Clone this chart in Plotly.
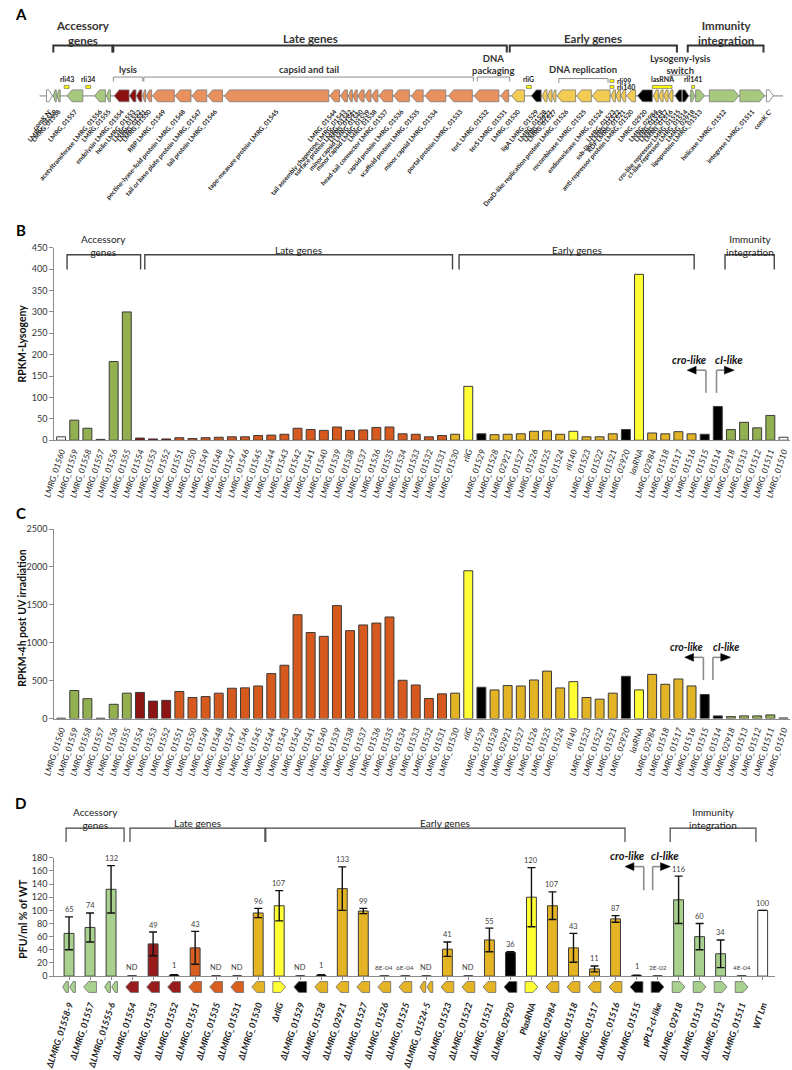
import plotly.graph_objects as go

W, H = 792, 1070
FONT = "Lato"


def PY(p):
    return 1 - p / H


def PX(p):
    return p / W


# ------------------------------------------------------------------ data
bc_cats = ["LMRG_01560", "LMRG_01559", "LMRG_01558", "LMRG_01557", "LMRG_01556", "LMRG_01555",
           "LMRG_01554", "LMRG_01553", "LMRG_01552", "LMRG_01551", "LMRG_01550", "LMRG_01549",
           "LMRG_01548", "LMRG_01547", "LMRG_01546", "LMRG_01545", "LMRG_01544", "LMRG_01543",
           "LMRG_01542", "LMRG_01541", "LMRG_01540", "LMRG_01539", "LMRG_01538", "LMRG_01537",
           "LMRG_01536", "LMRG_01535", "LMRG_01534", "LMRG_01533", "LMRG_01532", "LMRG_01531",
           "LMRG_01530", "rliG", "LMRG_01529", "LMRG_01528", "LMRG_02921", "LMRG_01527",
           "LMRG_01526", "LMRG_01525", "LMRG_01524", "rli140", "LMRG_01523", "LMRG_01522",
           "LMRG_01521", "LMRG_02920", "lasRNA", "LMRG_02984", "LMRG_01518", "LMRG_01517",
           "LMRG_01516", "LMRG_01515", "LMRG_01514", "LMRG_02918", "LMRG_01513", "LMRG_01512",
           "LMRG_01511", "LMRG_01510"]
bc_group = (["none"] + ["acc"] * 5 + ["lys"] * 3 + ["late"] * 21 + ["early", "yel", "blk"]
            + ["early"] * 6 + ["yel"] + ["early"] * 3 + ["blk", "yel"] + ["early"] * 4
            + ["blk", "blk"] + ["acc"] * 4 + ["none"])
rpkm_lysogeny = [8, 47, 28, 2, 184, 300, 5, 3, 3, 6, 4, 6, 7, 8, 8, 11, 12, 14, 28, 25, 23, 31,
                 23, 24, 30, 31, 15, 14, 8, 11, 14, 126, 15, 13, 14, 15, 21, 22, 14, 21, 8, 8,
                 15, 25, 388, 17, 15, 20, 15, 14, 79, 25, 42, 29, 58, 7]
rpkm_uv = [5, 370, 262, 5, 188, 335, 345, 230, 240, 357, 278, 290, 335, 400, 405, 430, 593, 703,
           1370, 1135, 1085, 1490, 1160, 1235, 1260, 1340, 505, 443, 265, 326, 335, 1950, 413,
           378, 435, 430, 509, 626, 404, 487, 278, 256, 335, 557, 378, 583, 452, 522, 430, 317,
           35, 26, 35, 35, 48, 8]

d_cats = ["ΔLMRG_01558-9", "ΔLMRG_01557", "ΔLMRG_01555-6", "ΔLMRG_01554", "ΔLMRG_01553",
          "ΔLMRG_01552", "ΔLMRG_01551", "ΔLMRG_01535", "ΔLMRG_01531", "ΔLMRG_01530", "ΔrliG",
          "ΔLMRG_01529", "ΔLMRG_01528", "ΔLMRG_02921", "ΔLMRG_01527", "ΔLMRG_01526",
          "ΔLMRG_01525", "ΔLMRG_01524-5", "ΔLMRG_01523", "ΔLMRG_01522", "ΔLMRG_01521",
          "ΔLMRG_02920", "PlasRNA", "ΔLMRG_02984", "ΔLMRG_01518", "ΔLMRG_01517",
          "ΔLMRG_01516", "ΔLMRG_01515", "pPL2-cI-like", "ΔLMRG_02918", "ΔLMRG_01513",
          "ΔLMRG_01512", "ΔLMRG_01511", "WT Lm"]
d_group = ["acc", "acc", "acc", "lys", "lys", "lys", "late", "late", "late", "early", "yel",
           "blk", "early", "early", "early", "early", "early", "early", "early", "early", "early",
           "blk", "yel", "early", "early", "early", "early", "blk", "blk", "acc", "acc", "acc",
           "acc", "none"]
d_values = [65, 74, 132, 0, 49, 1, 43, 0, 0, 96, 107, 0, 1, 133, 99, 8e-4, 6e-4, 0, 41, 0, 55,
            36, 120, 107, 43, 11, 87, 1, 2e-2, 116, 60, 34, 4e-4, 100]
d_errors = [25, 22, 36, 0, 18, 1, 25, 0, 0, 7, 23, 0, 1, 33, 4, 0, 0, 0, 11, 0, 18, 1, 45, 21,
            22, 4.5, 5, 0.5, 0, 36, 20, 21, 0, 0]
d_labels = ["65", "74", "132", "ND", "49", "1", "43", "ND", "ND", "96", "107", "ND", "1", "133",
            "99", "8E-04", "6E-04", "ND", "41", "ND", "55", "36", "120", "107", "43", "11", "87",
            "1", "2E-02", "116", "60", "34", "4E-04", "100"]
d_icons = ["LL", "L", "LL", "L", "L", "L", "L", "L", "L", "L", "R", "L", "L", "L", "L", "L", "L",
           "LL", "L", "L", "L", "L", "R", "L", "L", "L", "L", "L", "R", "R", "R", "R", "R", ""]

# genome map (kb)
gene_names = ["comK N'", "LMRG_01559", "LMRG_01558", "LMRG_01557", "acetyltransferase LMRG_01556",
              "LMRG_01555", "endolysin LMRG_01554", "holin LMRG_01553", "LMRG_01552",
              "LMRG_01551", "LMRG_01550", "RBP LMRG_01549",
              "pectine-lyase-fold protein LMRG_01548", "tail or base plate protein LMRG_01547",
              "tail protein LMRG_01546", "tape-measure protein LMRG_01545", "LMRG_01544",
              "tail assembly chaperone LMRG_01543", "surface protein LMRG_01542", "LMRG_01541",
              "minor capsid LMRG_01540", "minor capsid LMRG_01539", "LMRG_01538",
              "head-tail connector LMRG_01537", "capsid protein LMRG_01536",
              "scaffold protein LMRG_01535", "minor capsid LMRG_01534",
              "portal protein LMRG_01533", "terL LMRG_01532", "terS LMRG_01531", "LMRG_01530",
              "ligA LMRG_01529", "LMRG_01528", "LMRG_02921", "LMRG_01527",
              "DnaD-like replication protein LMRG_01526", "recombinase LMRG_01525",
              "endonuclease LMRG_01524", "LMRG_01523", "ssb-like LMRG_01522", "RDF LMRG_01521",
              "anti-repressor protein LMRG_01520", "LMRG_02920", "LMRG_02984", "LMRG_01518",
              "LMRG_01517", "LMRG_01516", "cro-like repressor LMRG_01515",
              "cI-like repressor LMRG_01514", "LMRG_02918", "lipoprotein LMRG_01513",
              "helicase LMRG_01512", "integrase LMRG_01511", "comK C'"]
gene_start = [0.35, 0.70, 0.88, 1.40, 2.80, 3.40, 3.80, 4.58, 4.93, 5.25, 5.43, 5.75, 6.90, 7.75,
              8.55, 9.40, 14.75, 15.30, 15.70, 15.93, 16.18, 16.53, 16.88, 17.25, 18.00, 18.90,
              19.60, 20.80, 22.10, 23.45, 24.00, 25.00, 25.55, 25.83, 26.08, 26.30, 27.30, 28.10,
              29.05, 29.30, 29.55, 29.85, 30.40, 31.20, 31.48, 31.73, 31.98, 32.30, 32.68, 33.10,
              33.35, 34.05, 35.60, 36.95]
gene_end = [0.65, 0.85, 1.05, 2.20, 3.35, 3.60, 4.55, 4.90, 5.20, 5.40, 5.70, 6.85, 7.70, 8.50,
            9.30, 14.70, 15.25, 15.65, 15.90, 16.15, 16.50, 16.85, 17.20, 17.95, 18.80, 19.50,
            20.65, 22.00, 23.35, 23.85, 24.65, 25.50, 25.80, 26.05, 26.25, 27.25, 28.05, 29.00,
            29.28, 29.53, 29.80, 30.30, 31.15, 31.45, 31.70, 31.95, 32.20, 32.65, 33.00, 33.30,
            33.80, 35.55, 36.85, 37.30]
gene_strand = [1] + [-1] * 47 + [1] * 6
gene_group = (["none"] + ["acc"] * 5 + ["lys"] * 3 + ["late"] * 21 + ["early", "blk"]
              + ["early"] * 10 + ["blk"] + ["early"] * 4 + ["blk", "blk"] + ["acc"] * 4 + ["none"])
genome_len = 37.8

srna_names = ["rli43", "rli34", "rliG", "rli99", "rli140", "lasRNA", "rli141"]
srna_start = [1.25, 2.35, 24.75, 29.00, 29.00, 31.15, 33.15]
srna_end = [1.50, 2.60, 25.00, 29.20, 29.20, 32.15, 33.30]

COL_A = {"none": "#ffffff", "acc": "#a6c97e", "lys": "#8b1010", "late": "#e8915e",
         "early": "#f2cb52", "yel": "#ffff33", "blk": "#000000"}
COL_BC = {"none": "#ffffff", "acc": "#92b050", "lys": "#8c1414", "late": "#d65a1e",
          "early": "#e2b324", "yel": "#ffff33", "blk": "#000000"}
COL_D = {"none": "#ffffff", "acc": "#a9d18e", "lys": "#981c1c", "late": "#d95f1f",
         "early": "#e5b424", "yel": "#ffff33", "blk": "#000000"}

# ------------------------------------------------------------------ geometry (px)
XB_DOM = (42, 790)
XB_RNG = (-0.52, 55.5)
YB_DOM = (245, 440)
YC_DOM = (530, 722)
XD_DOM = (42, 775)
XD_RNG = (-0.7, 33.6)
YD_DOM = (863, 983)
XA_DOM = (27, 783)
YA_DOM = (82, 100)

ppu_b = (XB_DOM[1] - XB_DOM[0]) / (XB_RNG[1] - XB_RNG[0])
ppu_d = (XD_DOM[1] - XD_DOM[0]) / (XD_RNG[1] - XD_RNG[0])
ppu_a = (XA_DOM[1] - XA_DOM[0]) / genome_len

shapes = []
annotations = []
fig = go.Figure()


def txt(x, y, text, size=10, xref="paper", yref="paper", bold=False, italic=False, color="#222",
        xanchor="center", yanchor="middle", angle=0):
    annotations.append(dict(x=x, y=y, xref=xref, yref=yref, text=text, showarrow=False,
                            xanchor=xanchor, yanchor=yanchor, textangle=angle, borderpad=0,
                            font=dict(family=FONT, size=size, color=color,
                                      weight="bold" if bold else "normal",
                                      style="italic" if italic else "normal")))


def bracket(xref, x0, x1, ytop, ybot, color, width):
    shapes.append(dict(type="path", xref=xref, yref="paper", layer="above",
                       path=f"M {x0},{PY(ybot)} L {x0},{PY(ytop)} L {x1},{PY(ytop)} L {x1},{PY(ybot)}",
                       line=dict(color=color, width=width)))


def bracket_label(xref, xm, label, ycenter, size, bold, color="#222"):
    txt(xm, PY(ycenter), label.replace("|", "<br>"), size=size, xref=xref, bold=bold, color=color)


def switch(xref, xcro, xci, ppu, ybot, ytop, ytext, fs):
    # cro-like (leftward) and cI-like (rightward) promoter arrows
    for vx, sign, hl, hd in ((xcro, -1, 10, 9), (xci, 1, 8, 10)):
        shapes.append(dict(type="line", xref=xref, yref="paper", x0=vx, x1=vx,
                           y0=PY(ybot), y1=PY(ytop), line=dict(color="#8c8c8c", width=1.6)))
        xe = vx + sign * hl / ppu
        shapes.append(dict(type="line", xref=xref, yref="paper", x0=vx, x1=xe,
                           y0=PY(ytop), y1=PY(ytop), line=dict(color="#8c8c8c", width=1.6)))
        tip = xe + sign * hd / ppu
        shapes.append(dict(type="path", xref=xref, yref="paper", fillcolor="#000",
                           line=dict(color="#000", width=0.5),
                           path=f"M {xe},{PY(ytop - 4)} L {tip},{PY(ytop)} L {xe},{PY(ytop + 4)} Z"))
    txt(xcro - 17 / ppu, PY(ytext), "cro-like", size=fs, xref=xref, bold=True, italic=True, color="#111")
    txt(xci + 13 / ppu, PY(ytext), "cI-like", size=fs, xref=xref, bold=True, italic=True, color="#111")


# ------------------------------------------------------------------ panel A: genome map
half = 0.667
for name, s, e, st, g in zip(gene_names, gene_start, gene_end, gene_strand, gene_group):
    ln = e - s
    head = min(5 / ppu_a, 0.6 * ln)
    if st < 0:
        p = (f"M {s},0 L {s + head},{half} L {e},{half} L {e},{-half} L {s + head},{-half} Z")
    else:
        p = (f"M {e},0 L {e - head},{half} L {s},{half} L {s},{-half} L {e - head},{-half} Z")
    shapes.append(dict(type="path", xref="x4", yref="y4", path=p, fillcolor=COL_A[g],
                       line=dict(color="#7a7a7a", width=0.8), layer="above"))
shapes.append(dict(type="line", xref="x4", yref="y4", x0=-0.1, x1=genome_len, y0=0, y1=0,
                   line=dict(color="#9a9a9a", width=1.2), layer="below"))
fig.add_trace(go.Scatter(x=[(s + e) / 2 for s, e in zip(gene_start, gene_end)],
                         y=[0] * len(gene_start), mode="markers", marker=dict(size=1, opacity=0),
                         xaxis="x4", yaxis="y4", hoverinfo="skip", showlegend=False))

for name, s, e in zip(srna_names, srna_start, srna_end):
    if name == "rli99":
        y0, y1 = 74.5, 77.5
    else:
        y0, y1 = 80.5, 83.5
    shapes.append(dict(type="rect", xref="x4", yref="paper", x0=s, x1=e, y0=PY(y1), y1=PY(y0),
                       fillcolor="#ffff00", line=dict(color="#555", width=0.6)))
    if name in ("rli99", "rli140"):
        txt(e + 0.08, PY((y0 + y1) / 2), name, size=7, xref="x4", xanchor="left", color="#222",
            bold=True)
    else:
        txt((s + e) / 2, PY(y0 - 1.5), name, size=7, xref="x4", yanchor="bottom", color="#222",
            bold=True)

top_brackets_a = [("Accessory|genes", 0.70, 3.70), ("Late genes", 3.75, 23.75),
                  ("Early genes", 23.9, 32.4), ("Immunity|integration", 32.95, 36.8)]
for lab, x0, x1 in top_brackets_a:
    bracket("x4", x0, x1, 40, 47, "#333", 2)
    yc = 27 if "|" in lab else 33
    bracket_label("x4", (x0 + x1) / 2, lab, yc, 11.5, True, "#333")

sub_brackets_a = [("lysis", 3.75, 5.25, 72), ("capsid and tail", 5.30, 22.05, 72),
                  ("DNA|packaging", 22.25, 23.9, 72), ("DNA replication", 26.4, 28.9, 73.5),
                  ("Lysogeny-lysis|switch", 32.05, 33.05, 70)]
for lab, x0, x1, yb in sub_brackets_a:
    bracket("x4", x0, x1, yb, yb + 4.5, "#8c8c8c", 1)
    yc = 59 if "|" in lab else 64
    bracket_label("x4", (x0 + x1) / 2, lab, yc, 9.5, True, "#333")

# ------------------------------------------------------------------ panel B
xs_bc = list(range(len(bc_cats)))
fig.add_trace(go.Bar(x=xs_bc, y=rpkm_lysogeny, width=0.68, xaxis="x", yaxis="y",
                     marker=dict(color=[COL_BC[g] for g in bc_group],
                                 line=dict(color="#3a3a3a", width=1)), showlegend=False))
# ------------------------------------------------------------------ panel C
fig.add_trace(go.Bar(x=xs_bc, y=rpkm_uv, width=0.68, xaxis="x2", yaxis="y2",
                     marker=dict(color=[COL_BC[g] for g in bc_group],
                                 line=dict(color="#3a3a3a", width=1)), showlegend=False))

brackets_b = [("Accessory|genes", 0.45, 6.05), ("Late genes", 6.37, 29.8),
              ("Early genes", 30.3, 48.2), ("Immunity|integration", 50.55, 54.3)]
for lab, x0, x1 in brackets_b:
    bracket("x", x0, x1, 252, 267, "#444", 1.4)
    yc = 242.5 if "|" in lab else 247
    bracket_label("x", (x0 + x1) / 2, lab, yc, 10, False, "#222")

i15 = bc_cats.index("LMRG_01515")
i14 = bc_cats.index("LMRG_01514")
switch("x", i15 + 1.3 / ppu_b, i14 - 1.3 / ppu_b, ppu_b, 392, 369, 358, 11)
switch("x2", i15 - 1.3 / ppu_b, i14 - 5 / ppu_b, ppu_b, 683, 660, 650, 10.5)

# ------------------------------------------------------------------ panel D
xs_d = list(range(len(d_cats)))
fig.add_trace(go.Bar(x=xs_d, y=d_values, width=0.47, xaxis="x3", yaxis="y3",
                     marker=dict(color=[COL_D[g] for g in d_group],
                                 line=dict(color="#3a3a3a", width=1)),
                     error_y=dict(type="data", array=d_errors, visible=True, color="#111",
                                  thickness=1.4, width=4), showlegend=False))
for i, (v, e, lab) in enumerate(zip(d_values, d_errors, d_labels)):
    small = "E" in lab
    annotations.append(dict(x=i, y=v + e, xref="x3", yref="y3", text=lab, showarrow=False,
                            yanchor="middle", yshift=7 if v + e > 3 else 9, borderpad=0,
                            font=dict(family=FONT, size=6.5 if small else 7.5, color="#404040")))

# icons under panel D
iw = 6.5 / ppu_d
hd = 5 / ppu_d
yt, yb = PY(988.5), PY(999.5)
ym = (yt + yb) / 2
for i, (ic, g) in enumerate(zip(d_icons, d_group)):
    if not ic:
        continue
    if ic == "LL":
        parts = [(i - iw, i - 0.03), (i + 0.03, i + iw)]
    else:
        parts = [(i - iw, i + iw)]
    for s, e in parts:
        h = min(hd, 0.6 * (e - s))
        if ic[0] == "L":
            p = f"M {s},{ym} L {s + h},{yt} L {e},{yt} L {e},{yb} L {s + h},{yb} Z"
        else:
            p = f"M {e},{ym} L {e - h},{yt} L {s},{yt} L {s},{yb} L {e - h},{yb} Z"
        shapes.append(dict(type="path", xref="x3", yref="paper", path=p, fillcolor=COL_D[g],
                           line=dict(color="#6b6b6b", width=0.8)))

brackets_d = [("Accessory|genes", -0.14, 2.62), ("Late genes", 2.9, 9.32),
              ("Early genes", 9.36, 26.45), ("Immunity|integration", 28.6, 32.68)]
for lab, x0, x1 in brackets_d:
    bracket("x3", x0, x1, 833, 847, "#444", 1.2)
    yc = 823.5 if "|" in lab else 828
    bracket_label("x3", (x0 + x1) / 2, lab, yc, 10, False, "#222")

j15 = d_cats.index("ΔLMRG_01515")
jci = d_cats.index("pPL2-cI-like")
switch("x3", j15 + 7.3 / ppu_d, jci - 5 / ppu_d, ppu_d, 896, 872, 861, 11)

# ------------------------------------------------------------------ titles / panel letters
for letter, yy in (("A", 8), ("B", 227), ("C", 514), ("D", 808)):
    txt(PX(8), PY(yy), letter, size=15, bold=True, color="#000")
txt(PX(9), PY(342), "RPKM-Lysogeny", size=10.5, bold=True, angle=-90, color="#111")
txt(PX(9), PY(620), "RPKM-4h post UV irradiation", size=10.5, bold=True, angle=-90, color="#111")
txt(PX(10), PY(925), "PFU/ml % of WT", size=10.5, bold=True, angle=-90, color="#111")

# ------------------------------------------------------------------ axes
axis_line = "#8c8c8c"
tick_font = dict(family=FONT, size=9, color="#333")


def xcat(dom, rng, anchor, vals, texts, size, angle, standoff=2, ticks="", weight="normal"):
    return dict(domain=[PX(dom[0]), PX(dom[1])], range=list(rng), anchor=anchor,
                tickmode="array", tickvals=vals, ticktext=texts, tickangle=angle,
                tickfont=dict(family=FONT, size=size, color="#1a1a1a", style="italic",
                              weight=weight),
                showline=True, linecolor=axis_line, linewidth=1, showgrid=False,
                zeroline=False, ticks=ticks, ticklen=3, tickcolor=axis_line,
                ticklabelstandoff=standoff, ticklabeloverflow="allow", fixedrange=True)


def yval(dom, rng, dtick, anchor):
    return dict(domain=[PY(dom[1]), PY(dom[0])], range=list(rng), dtick=dtick, anchor=anchor,
                showline=True, linecolor=axis_line, linewidth=1, ticks="outside", ticklen=4,
                tickcolor=axis_line, tickfont=tick_font, showgrid=False, zeroline=False,
                fixedrange=True)


fig.update_layout(
    width=W, height=H, margin=dict(l=0, r=0, t=0, b=0),
    paper_bgcolor="white", plot_bgcolor="rgba(0,0,0,0)",
    font=dict(family=FONT, color="#222"),
    showlegend=False,
    xaxis=xcat(XB_DOM, XB_RNG, "y", xs_bc, bc_cats, 8.5, -72),
    yaxis=yval(YB_DOM, (0, 450), 50, "x"),
    xaxis2=xcat(XB_DOM, XB_RNG, "y2", xs_bc, bc_cats, 8.5, -72),
    yaxis2=yval(YC_DOM, (0, 2500), 500, "x2"),
    xaxis3=xcat(XD_DOM, XD_RNG, "y3", xs_d, d_cats, 9, -72, standoff=16, ticks="outside",
                weight="bold"),
    yaxis3=yval(YD_DOM, (0, 180), 20, "x3"),
    xaxis4=dict(domain=[PX(XA_DOM[0]), PX(XA_DOM[1])], range=[0, genome_len], anchor="y4",
                tickmode="array",
                tickvals=[(s + e) / 2 for s, e in zip(gene_start, gene_end)],
                ticktext=gene_names, tickangle=-49,
                tickfont=dict(family=FONT, size=6.5, color="#1a1a1a", weight="bold"),
                showline=False, showgrid=False, zeroline=False, ticks="",
                ticklabelstandoff=1, ticklabeloverflow="allow", fixedrange=True),
    yaxis4=dict(domain=[PY(YA_DOM[1]), PY(YA_DOM[0])], range=[-1, 1], anchor="x4",
                visible=False, fixedrange=True),
    shapes=shapes, annotations=annotations,
)

fig.write_html("out.html", config={"displayModeBar": False, "staticPlot": True},
               post_script="document.body.style.margin='0px';")
